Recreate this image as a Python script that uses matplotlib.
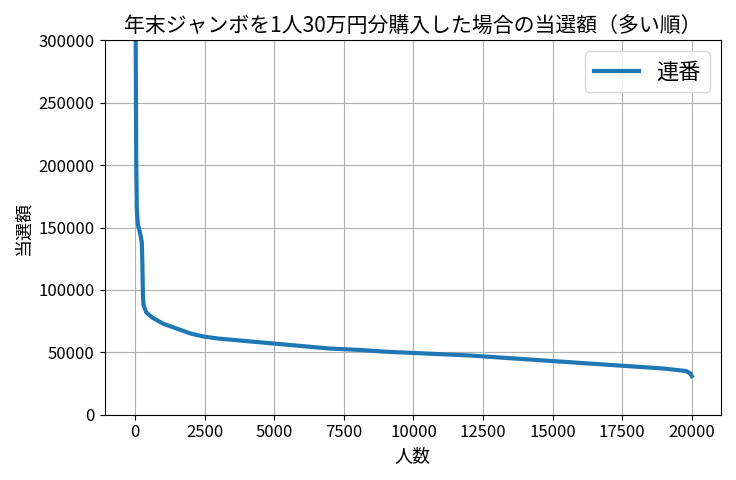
import matplotlib
matplotlib.use("Agg")
import matplotlib.pyplot as plt

plt.rcParams['font.family'] = ['Noto Sans CJK JP', 'DejaVu Sans']

people = [0, 20, 40, 60, 100, 150, 200, 240, 260, 280, 300, 400, 600, 1000, 1500, 2000, 2500,
          3000, 4000, 5000, 6000, 7000, 8000, 9000, 10000, 11000, 12000, 13000, 14000,
          15000, 16000, 17000, 18000, 19000, 19800, 19950, 20000]
amount = [400000, 300000, 200000, 165000, 152000, 148000, 143000, 138000, 120000, 95000, 88000,
          82000, 78000, 73000, 69000, 65000, 62500, 61000, 59000, 57000, 55000, 53000, 52000,
          50500, 49500, 48500, 47500, 46000, 44500, 43000, 41500, 40000, 38500, 37000,
          35000, 33000, 31000]

fig, ax = plt.subplots(figsize=(7.36, 4.8), dpi=100)
ax.plot(people, amount, lw=3, color='#1f77b4', label='連番')
ax.set_ylim(0, 300000)
ax.set_xlim(-1100, 21050)
ax.set_xticks(range(0, 20001, 2500))
ax.grid(True)
ax.set_title('年末ジャンボを1人30万円分購入した場合の当選額（多い順）', fontsize=15)
ax.set_xlabel('人数', fontsize=13)
ax.set_ylabel('当選額', fontsize=13)
ax.tick_params(labelsize=12)
ax.legend(fontsize=16, loc='upper right')
fig.tight_layout()
fig.savefig('out.png')
